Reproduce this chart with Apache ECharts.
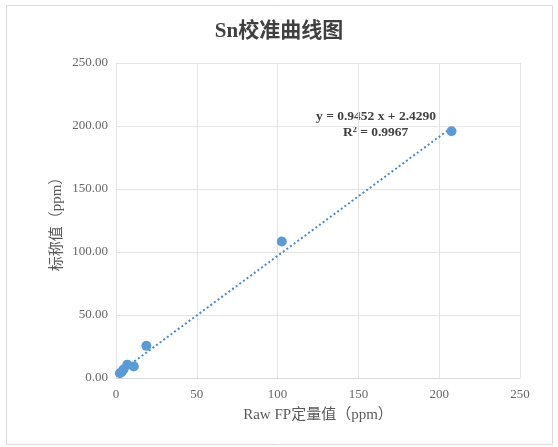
<!DOCTYPE html>
<html>
<head>
<meta charset="utf-8">
<style>
  html, body { margin: 0; padding: 0; background: #fff; }
  #main { width: 558px; height: 447px; }
</style>
<script src="https://cdn.jsdelivr.net/npm/echarts@6/dist/echarts.min.js"></script>
</head>
<body>
<div id="main"></div>
<script>
// raw FP value vs nominal value (ppm)
var rawFP = [2.4, 3.5, 4.6, 7.0, 11.0, 18.8, 102.6, 207.6];
var nominal = [3.8, 4.8, 6.8, 10.6, 9.2, 25.5, 108.3, 195.8];
var slope = 0.9452;
var intercept = 2.4290;
var r2 = 0.9967;
var xTicks = [0, 50, 100, 150, 200, 250];
var yTicks = [0, 50, 100, 150, 200, 250];

var points = rawFP.map(function (x, i) { return [x, nominal[i]]; });
var xMin = Math.min.apply(null, rawFP), xMax = Math.max.apply(null, rawFP);
var trend = [[xMin, slope * xMin + intercept], [xMax, slope * xMax + intercept]];

var serif = '"Liberation Serif", "Times New Roman", "Noto Sans CJK SC", serif';
var myChart = echarts.init(document.getElementById('main'));
option = {
    backgroundColor: '#fff',
    animation: false,
    title: {
        text: 'Sn校准曲线图',
        left: 'center',
        top: 16,
        textStyle: { fontFamily: serif, fontSize: 21, fontWeight: 'bold', color: '#404040' }
    },
    grid: { left: 116, right: 38, top: 63, bottom: 69, containLabel: false },
    xAxis: {
        type: 'value',
        min: xTicks[0], max: xTicks[xTicks.length - 1], interval: 50,
        name: 'Raw FP定量值（ppm）',
        nameLocation: 'middle',
        nameGap: 30,
        nameTextStyle: { fontFamily: serif, fontSize: 15, color: '#595959' },
        axisLine: { show: true, lineStyle: { color: '#d9d9d9' } },
        axisTick: { show: false },
        axisLabel: { fontFamily: serif, fontSize: 13, color: '#666', margin: 10 },
        splitLine: { show: true, lineStyle: { color: '#e3e3e3' } }
    },
    yAxis: {
        type: 'value',
        min: yTicks[0], max: yTicks[yTicks.length - 1], interval: 50,
        name: '标称值（ppm）',
        nameLocation: 'middle',
        nameGap: 51,
        nameMoveOverlap: false,
        nameTextStyle: { fontFamily: serif, fontSize: 15, color: '#595959' },
        axisLine: { show: true, lineStyle: { color: '#e3e3e3' } },
        axisTick: { show: false },
        axisLabel: {
            fontFamily: serif, fontSize: 13, color: '#666', margin: 8,
            formatter: function (v) { return v.toFixed(2); }
        },
        splitLine: { show: true, lineStyle: { color: '#e3e3e3' } }
    },
    graphic: [
        {
            type: 'rect',
            shape: { x: 6.5, y: 5.5, width: 546, height: 439 },
            style: { fill: 'none', stroke: '#d9d9d9', lineWidth: 1 },
            silent: true
        },
        {
            type: 'text',
            left: 316, top: 110,
            style: {
                text: 'y = ' + slope.toFixed(4) + ' x + ' + intercept.toFixed(4),
                font: 'bold 13.5px ' + serif, fill: '#404040'
            }
        },
        {
            type: 'text',
            left: 343, top: 126,
            style: {
                text: 'R² = ' + r2.toFixed(4),
                font: 'bold 13.5px ' + serif, fill: '#404040'
            }
        }
    ],
    series: [
        {
            name: 'trend',
            type: 'line',
            data: trend,
            symbol: 'none',
            lineStyle: { color: '#4a8ac4', width: 2, type: [2, 2.5] },
            z: 1
        },
        {
            name: 'Sn',
            type: 'scatter',
            data: points,
            symbolSize: 10,
            itemStyle: { color: '#5b9bd5', opacity: 1 },
            z: 2
        }
    ]
};
myChart.setOption(option);
</script>
</body>
</html>
